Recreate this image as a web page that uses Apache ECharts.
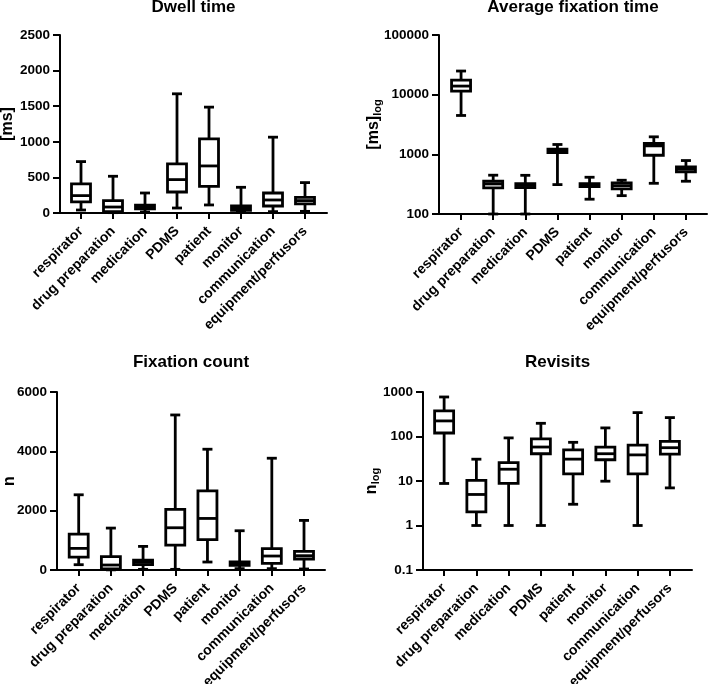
<!DOCTYPE html>
<html>
<head>
<meta charset="utf-8">
<script src="https://cdn.jsdelivr.net/npm/echarts@6/dist/echarts.min.js"></script>
<style>html,body{margin:0;padding:0;background:#fff}#c{width:708px;height:684px}</style>
</head>
<body>
<div id="c"></div>
<script>
// Categories (areas of interest)
const categories = ['respirator', 'drug preparation', 'medication', 'PDMS', 'patient', 'monitor', 'communication', 'equipment/perfusors'];

// Each row: [min, Q1, median, Q3, max]
const dwellTime = [
  [42, 155, 244, 408, 722],
  [5, 20, 84, 174, 516],
  [14, 60, 85, 112, 281],
  [70, 295, 469, 689, 1674],
  [113, 375, 661, 1041, 1487],
  [9, 38, 66, 98, 361],
  [19, 98, 183, 281, 1065],
  [23, 127, 174, 220, 427]
];
const avgFixationTime = [
  [4480, 11480, 13930, 17570, 24900],
  [100, 274, 319, 354, 447],
  [100, 276, 300, 324, 445],
  [311, 1072, 1143, 1219, 1462],
  [177, 288, 305, 322, 413],
  [203, 263, 299, 332, 368],
  [327, 966, 1387, 1518, 1965],
  [354, 508, 562, 616, 787]
];
const fixationCount = [
  [179, 437, 729, 1211, 2535],
  [5, 40, 168, 449, 1413],
  [22, 179, 258, 336, 796],
  [22, 841, 1424, 2041, 5226],
  [269, 1021, 1738, 2669, 4071],
  [45, 157, 224, 269, 1323],
  [45, 224, 471, 718, 3768],
  [34, 370, 482, 628, 1671]
];
const revisits = [
  [8.8, 120, 224, 375, 773],
  [1, 2.03, 4.98, 10.3, 30.9],
  [1, 8.8, 18.4, 26, 93],
  [1, 41, 58, 88, 198],
  [3, 14.5, 31, 50, 74],
  [9.9, 30, 41, 58, 156],
  [1, 14.5, 38.6, 64, 344],
  [7, 40, 56, 78, 266]
];

const panelTitles = ['Dwell time', 'Average fixation time', 'Fixation count', 'Revisits'];

const FONT = '"Liberation Sans", Arial, Helvetica, sans-serif';
const LW = 2.8;

// panel layout (pixels)
const panels = [
  { data: dwellTime, axisLeft: 60, top: 35, height: 178, lineW: 267, catLeft: 65, catW: 256,
    type: 'value', min: 0, max: 2500, interval: 500, name: '{a|[ms]}', nameGap: 44, titleX: 193.5, titleY: -1 },
  { data: avgFixationTime, axisLeft: 439, top: 35, height: 179, lineW: 268, catLeft: 445, catW: 257,
    type: 'log', min: 100, max: 100000, name: '{a|[ms]}{b|log}', nameGap: 56, titleX: 573, titleY: -1 },
  { data: fixationCount, axisLeft: 57, top: 392, height: 178, lineW: 268, catLeft: 62.6, catW: 257.5,
    type: 'value', min: 0, max: 6000, interval: 2000, name: '{a|n}', nameGap: 39, titleX: 191, titleY: 354 },
  { data: revisits, axisLeft: 423, top: 392, height: 178, lineW: 269, catLeft: 428, catW: 258,
    type: 'log', min: 0.1, max: 1000, name: '{a|n}{b|log}', nameGap: 42, titleX: 557.5, titleY: 354 }
];

function fmt(v) { return String(+(+v).toPrecision(6)); }

function renderBox(params, api) {
  const x = api.value(0);
  const pLo = api.coord([x, api.value(1)]);
  const pQ1 = api.coord([x, api.value(2)]);
  const pMed = api.coord([x, api.value(3)]);
  const pQ3 = api.coord([x, api.value(4)]);
  const pHi = api.coord([x, api.value(5)]);
  const cx = pLo[0];
  const hw = 9.5, cw = 5;
  const st = { stroke: '#000', lineWidth: LW, fill: null };
  return {
    type: 'group',
    children: [
      { type: 'line', shape: { x1: cx, y1: pHi[1], x2: cx, y2: pQ3[1] }, style: st },
      { type: 'line', shape: { x1: cx, y1: pQ1[1], x2: cx, y2: pLo[1] }, style: st },
      { type: 'line', shape: { x1: cx - cw, y1: pHi[1], x2: cx + cw, y2: pHi[1] }, style: st },
      { type: 'line', shape: { x1: cx - cw, y1: pLo[1], x2: cx + cw, y2: pLo[1] }, style: st },
      { type: 'rect', shape: { x: cx - hw, y: pQ3[1], width: 2 * hw, height: pQ1[1] - pQ3[1] },
        style: { stroke: '#000', lineWidth: LW, fill: '#fff' } },
      { type: 'line', shape: { x1: cx - hw, y1: pMed[1], x2: cx + hw, y2: pMed[1] }, style: st }
    ]
  };
}

const grid = [], xAxis = [], yAxis = [], series = [], title = [];
panels.forEach((p, i) => {
  // grid for the full-length axis lines
  grid.push({ left: p.axisLeft, top: p.top, width: p.lineW, height: p.height, outerBoundsMode: 'none', containLabel: false });
  // grid for the categories
  grid.push({ left: p.catLeft, top: p.top, width: p.catW, height: p.height, outerBoundsMode: 'none', containLabel: false });
  const gLine = 2 * i, gCat = 2 * i + 1;
  xAxis.push({
    gridIndex: gLine, type: 'value', min: 0, max: 1,
    axisLine: { show: true, onZero: false, lineStyle: { color: '#000', width: 2 } },
    axisTick: { show: false }, axisLabel: { show: false }, splitLine: { show: false }
  });
  xAxis.push({
    gridIndex: gCat, type: 'category', data: categories, boundaryGap: true,
    axisLine: { show: false },
    axisTick: { show: true, alignWithLabel: true, length: 6, lineStyle: { color: '#000', width: 2 } },
    axisLabel: { interval: 0, rotate: 45, fontSize: 14, fontWeight: 'bold', fontFamily: FONT, color: '#000', margin: 16 },
    splitLine: { show: false }
  });
  const yCommon = { type: p.type, min: p.min, max: p.max };
  if (p.type === 'log') yCommon.logBase = 10;
  if (p.interval) yCommon.interval = p.interval;
  yAxis.push(Object.assign({}, yCommon, {
    gridIndex: gLine,
    axisLine: { show: true, lineStyle: { color: '#000', width: 2 } },
    axisTick: { show: true, length: 7, lineStyle: { color: '#000', width: 2 } },
    axisLabel: { fontSize: 13.5, fontWeight: 'bold', fontFamily: FONT, color: '#000', margin: 10, formatter: fmt },
    splitLine: { show: false }, minorTick: { show: false },
    name: p.name, nameLocation: 'middle', nameGap: p.nameGap, nameRotate: 90, nameMoveOverlap: false,
    nameTextStyle: {
      color: '#000', fontFamily: FONT,
      rich: {
        a: { fontSize: 16, fontWeight: 'bold', fontFamily: FONT, color: '#000' },
        b: { fontSize: 11, fontWeight: 'bold', fontFamily: FONT, color: '#000', padding: [8, 0, 0, 0] }
      }
    }
  }));
  yAxis.push(Object.assign({}, yCommon, { gridIndex: gCat, show: false }));
  series.push({
    type: 'custom', xAxisIndex: 2 * i + 1, yAxisIndex: 2 * i + 1,
    renderItem: renderBox,
    encode: { x: 0, y: [1, 2, 3, 4, 5] },
    data: p.data.map((r, k) => [k].concat(r)),
    clip: false, silent: true
  });
  title.push({
    text: panelTitles[i], left: p.titleX, top: p.titleY, textAlign: 'center', padding: 0,
    textStyle: { fontSize: 17, fontWeight: 'bold', fontFamily: FONT, color: '#000' }
  });
});

const chart = echarts.init(document.getElementById('c'), null, { renderer: 'canvas' });
chart.setOption({ animation: false, backgroundColor: '#fff', title, grid, xAxis, yAxis, series });
</script>
</body>
</html>
